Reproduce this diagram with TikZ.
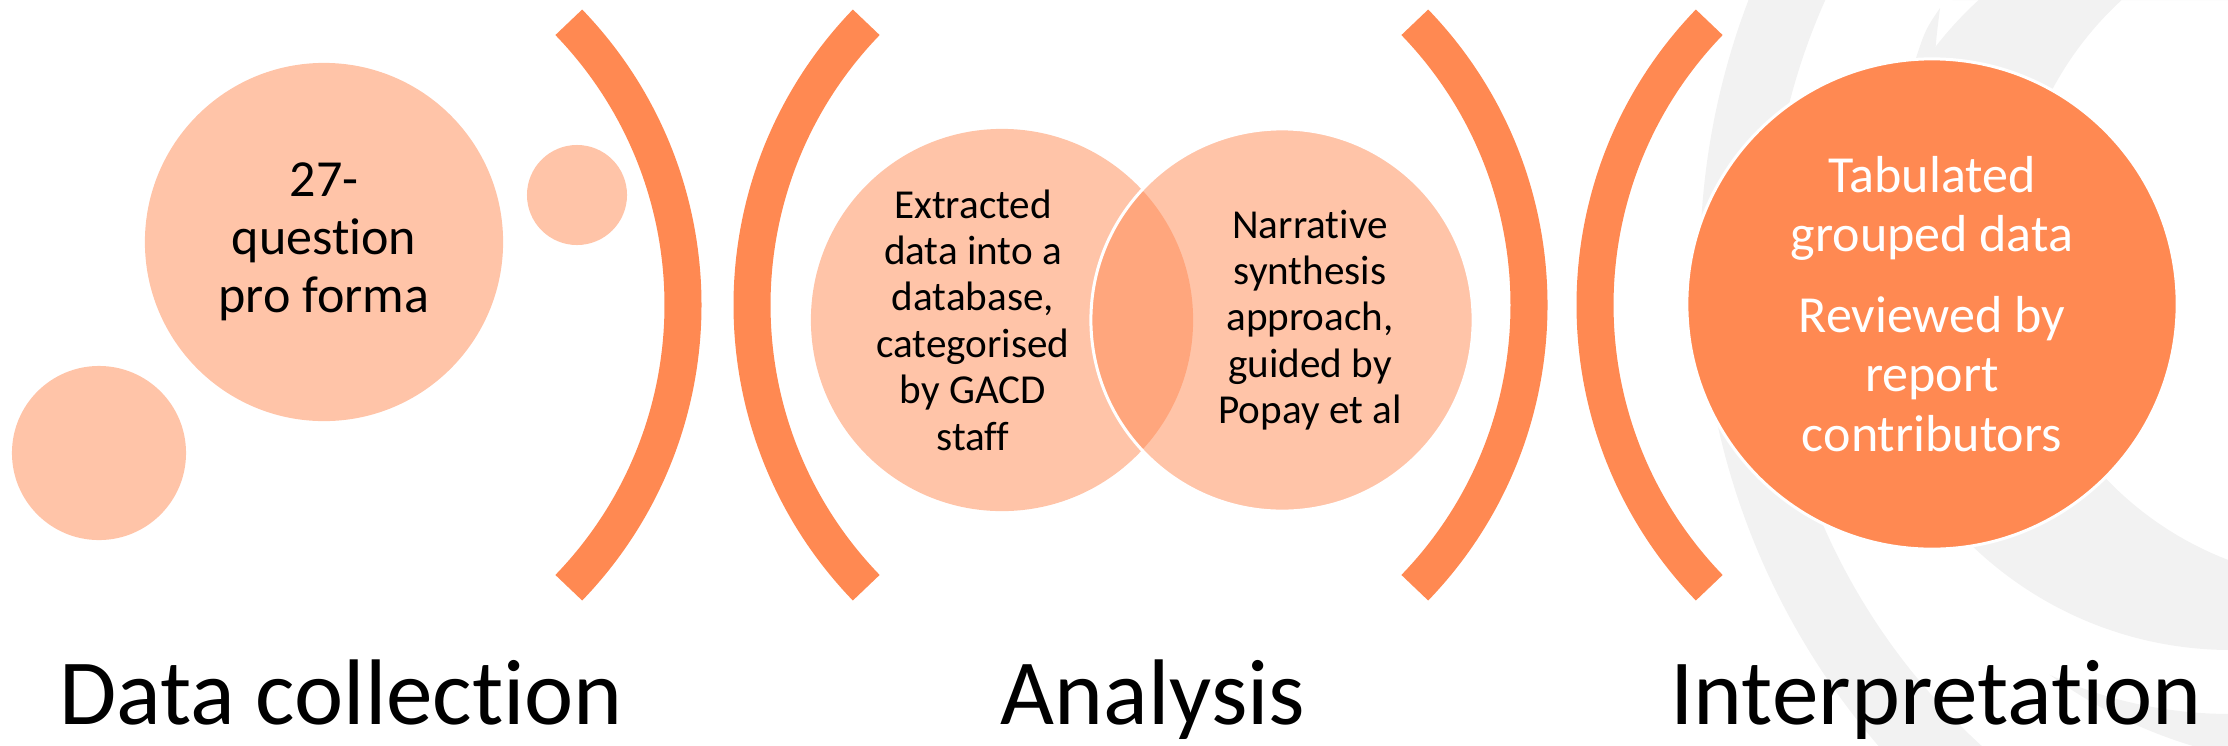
\documentclass[tikz,border=0pt]{standalone}
\usepackage{fontspec}
\setmainfont{Carlito}[Ligatures={NoCommon,NoRare}]
\usepackage{tikz}
\usetikzlibrary{positioning,calc}
\definecolor{brorange}{RGB}{255,137,82}
\definecolor{bggray}{RGB}{242,242,242}
\tikzset{
  arcbar/.style    ={draw=brorange, line width=0.37cm},
  softdot/.style   ={circle, fill=brorange, fill opacity=0.5, text opacity=1,
                     inner sep=0pt, minimum size=#1, align=center},
  vennring/.style  ={softdot=3.82cm},
  fulldot/.style   ={circle, fill=brorange, draw=white, line width=0.03cm,
                     text=white, inner sep=0pt, minimum size=4.9cm, align=center},
  bodyfont/.style  ={font=\fontsize{14.8}{16.5}\selectfont},
  vennfont/.style  ={font=\fontsize{11.7}{13.2}\selectfont, align=center},
  stagelabel/.style={font=\fontsize{26.5}{32}\selectfont, anchor=base},
}

\begin{document}
\begin{tikzpicture}[x=0.01cm, y=-0.01cm]
  \useasboundingbox (0,0) rectangle (2228,745);
  \begin{scope}
    \clip (0,0) rectangle (2228,745);
    \fill[bggray, even odd rule] (2440,264) circle[radius=740] (2419,265) circle[radius=650];
    \fill[bggray, even odd rule] (2231,276) circle[radius=374] (2348,247) circle[radius=335];
    \begin{scope}
      \clip (2330,290) circle[radius=476];
      \fill[bggray, even odd rule] (1600,0) rectangle (2400,800) (2231,276) circle[radius=438];
    \end{scope}
    \fill[bggray] (1940,8) .. controls (1925,30) .. (1912,70) -- (1934,70) .. controls (1936,40) .. (1940,8);
  \end{scope}

  \coordinate (arcA) at (276,305);
  \coordinate (arcB) at (1159,305);
  \coordinate (arcC) at (1122,305);
  \coordinate (arcD) at (2002,305);
  \draw[arcbar] ([shift={(-44:407)}]arcA) arc[start angle=-44, end angle=44, radius=407];
  \draw[arcbar] ([shift={(136:407)}]arcB) arc[start angle=136, end angle=224, radius=407];
  \draw[arcbar] ([shift={(-44:407)}]arcC) arc[start angle=-44, end angle=44, radius=407];
  \draw[arcbar] ([shift={(136:407)}]arcD) arc[start angle=136, end angle=224, radius=407];

  \node[softdot=1.74cm] (dotlow) at (99,453) {};
  \node[softdot=1.0cm]  (dottop) at (577,195) {};
  \node[softdot=3.58cm, bodyfont] (form) at (324,242) {27-\\question\\pro forma};

  \node[vennring] (vennl) at (1002,320) {};
  \node[vennring, draw=white, line width=0.03cm] (vennr) at (1282,320) {};
  \node[vennfont] (vtextl) at (973,320) {Extracted\\data into a\\database,\\categorised\\by GACD\\staff};
  \node[vennfont] (vtextr) at (1310,320) {Narrative\\synthesis\\approach,\\guided by\\Popay et al};

  \node[fulldot, font=\fontsize{14.8}{16.8}\selectfont] (result) at (1932,304)
    {Tabulated\\grouped data\\[0.22cm]Reviewed by\\report\\contributors};

  \node[stagelabel] (lblcollect) at (341,724) {Data collection};
  \node[stagelabel] (lblanalyse) at (1153,724) {Analysis};
  \node[stagelabel] (lblinterp)  at (1936,724) {Interpretation};
\end{tikzpicture}
\end{document}
